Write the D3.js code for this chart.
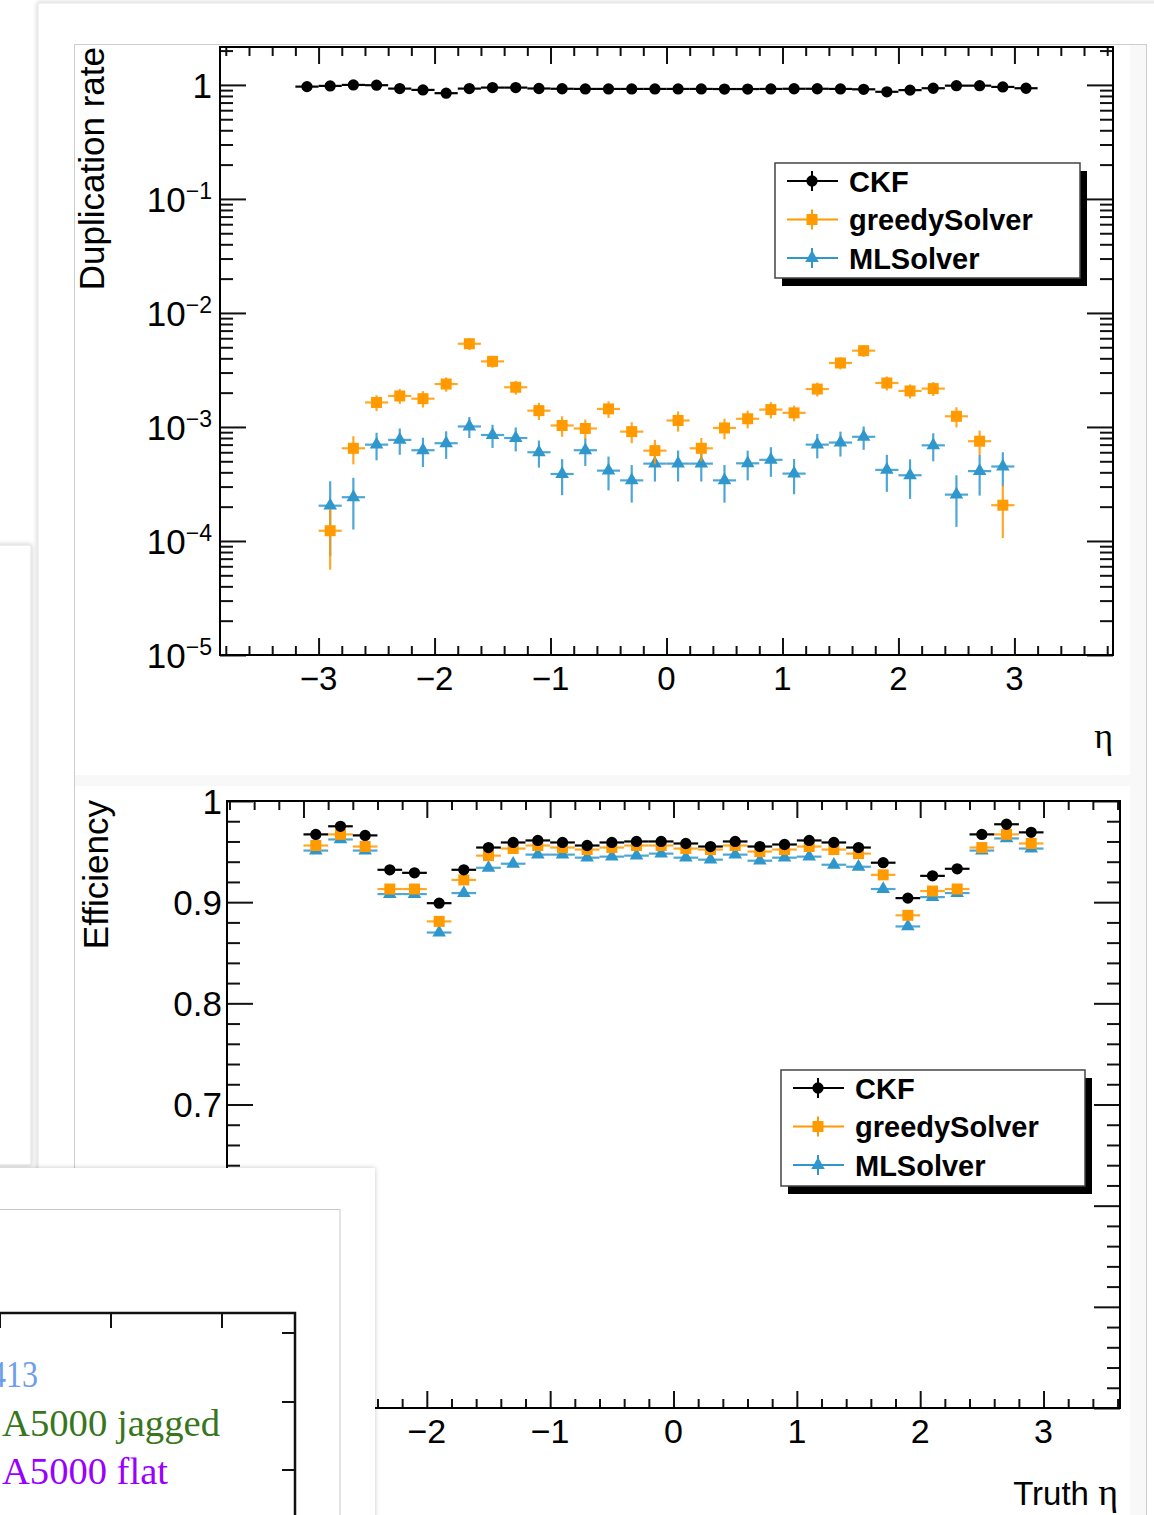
<!DOCTYPE html>
<html>
<head>
<meta charset="utf-8">
<script src="https://cdn.jsdelivr.net/npm/d3@7"></script>
<style>
  body { margin: 0; background: #fff; }
  text { font-family: "Liberation Sans", Arial, sans-serif; }
</style>
</head>
<body>
<div id="wrapper"></div>
<script>
// ---- data ----
// duplication rate vs eta
const etaCKF = [-3.1, -2.9, -2.7, -2.5, -2.3, -2.1, -1.9, -1.7, -1.5, -1.3, -1.1, -0.9, -0.7, -0.5, -0.3, -0.1,
                0.1, 0.3, 0.5, 0.7, 0.9, 1.1, 1.3, 1.5, 1.7, 1.9, 2.1, 2.3, 2.5, 2.7, 2.9, 3.1];
const etaBins = [-2.9, -2.7, -2.5, -2.3, -2.1, -1.9, -1.7, -1.5, -1.3, -1.1, -0.9, -0.7, -0.5, -0.3, -0.1,
                 0.1, 0.3, 0.5, 0.7, 0.9, 1.1, 1.3, 1.5, 1.7, 1.9, 2.1, 2.3, 2.5, 2.7, 2.9];

const dupCKF = [0.966, 0.98, 1.0, 0.994, 0.928, 0.904, 0.846, 0.928, 0.947, 0.947, 0.93, 0.925, 0.922, 0.922, 0.922, 0.922,
                0.922, 0.922, 0.92, 0.92, 0.922, 0.925, 0.925, 0.922, 0.915, 0.87, 0.9, 0.935, 0.985, 0.985, 0.96, 0.935];
const dupGreedy = [1.23e-4, 6.5e-4, 1.64e-3, 1.87e-3, 1.77e-3, 2.38e-3, 5.37e-3, 3.76e-3, 2.23e-3, 1.39e-3,
                   1.03e-3, 9.7e-4, 1.44e-3, 9.1e-4, 6.2e-4, 1.14e-3, 6.5e-4, 9.8e-4, 1.18e-3, 1.42e-3,
                   1.33e-3, 2.15e-3, 3.64e-3, 4.67e-3, 2.43e-3, 2.07e-3, 2.17e-3, 1.24e-3, 7.5e-4, 2.06e-4];
const dupGreedyErr = [6.7e-5, 1.8e-4, 2.6e-4, 2.8e-4, 2.9e-4, 3.4e-4, 6.5e-4, 4.5e-4, 3.1e-4, 2.4e-4,
                      2.1e-4, 1.9e-4, 2.4e-4, 1.9e-4, 1.5e-4, 2.3e-4, 1.5e-4, 2.0e-4, 2.1e-4, 2.3e-4,
                      2.1e-4, 3.0e-4, 4.4e-4, 5.6e-4, 3.4e-4, 2.9e-4, 3.0e-4, 2.5e-4, 1.8e-4, 1.0e-4];
const dupML = [2.04e-4, 2.42e-4, 7.0e-4, 7.7e-4, 6.25e-4, 7.2e-4, 1.01e-3, 8.5e-4, 8.0e-4, 6.0e-4,
               3.87e-4, 6.25e-4, 4.14e-4, 3.4e-4, 4.77e-4, 4.77e-4, 4.77e-4, 3.4e-4, 4.8e-4, 5.15e-4,
               3.9e-4, 7.0e-4, 7.3e-4, 8.2e-4, 4.2e-4, 3.77e-4, 6.9e-4, 2.55e-4, 4.1e-4, 4.5e-4];
const dupMLErr = [1.3e-4, 1.16e-4, 1.9e-4, 2.0e-4, 1.8e-4, 1.95e-4, 2.1e-4, 1.95e-4, 1.9e-4, 1.6e-4,
                  1.35e-4, 1.7e-4, 1.36e-4, 1.23e-4, 1.45e-4, 1.45e-4, 1.45e-4, 1.23e-4, 1.4e-4, 1.5e-4,
                  1.33e-4, 1.7e-4, 1.8e-4, 1.9e-4, 1.5e-4, 1.43e-4, 1.9e-4, 1.22e-4, 1.6e-4, 1.5e-4];

// efficiency vs truth eta
const effCKF = [0.967, 0.975, 0.966, 0.932, 0.929, 0.899, 0.932, 0.954, 0.959, 0.961, 0.959, 0.956, 0.959, 0.960, 0.960,
                0.958, 0.955, 0.960, 0.955, 0.957, 0.961, 0.959, 0.954, 0.939, 0.904, 0.926, 0.933, 0.967, 0.977, 0.969];
const effGreedy = [0.956, 0.967, 0.955, 0.913, 0.913, 0.881, 0.922, 0.946, 0.953, 0.956, 0.954, 0.952, 0.954, 0.956, 0.956,
                   0.953, 0.952, 0.956, 0.950, 0.952, 0.955, 0.952, 0.948, 0.927, 0.887, 0.911, 0.913, 0.954, 0.967, 0.958];
const effML = [0.951, 0.962, 0.951, 0.908, 0.908, 0.870, 0.909, 0.934, 0.938, 0.947, 0.947, 0.944, 0.945, 0.946, 0.948,
               0.944, 0.942, 0.947, 0.941, 0.944, 0.945, 0.937, 0.935, 0.913, 0.876, 0.905, 0.909, 0.951, 0.963, 0.953];

const seriesNames = ['CKF', 'greedySolver', 'MLSolver'];
const seriesColors = ['#000000', '#ff9a00', '#2f97cc'];
const seriesMarkers = [d3.symbolCircle, d3.symbolSquare, d3.symbolTriangle];
const markerSizes = [100, 121, 80];

const etaMajors = [-3, -2, -1, 0, 1, 2, 3];
const logMajors = [1e-5, 1e-4, 1e-3, 1e-2, 1e-1, 1];
const logLabels = [['10', '\u22125'], ['10', '\u22124'], ['10', '\u22123'], ['10', '\u22122'], ['10', '\u22121'], ['1', '']];
const effMajors = [0.4, 0.5, 0.6, 0.7, 0.8, 0.9, 1.0];
const effLabels = ['0.4', '0.5', '0.6', '0.7', '0.8', '0.9', '1'];

const sideNotes = ['413', 'A5000 jagged', 'A5000 flat'];
const sideColors = ['#6d9eeb', '#38761d', '#9900ff'];

// the lower-left card covers this part of the canvas
const cover = { x: 375, y: 1168 };
function hidden(px, py) { return px < cover.x && py > cover.y; }

// ---- page ----
const svg = d3.select('#wrapper').append('svg')
    .attr('width', 1154).attr('height', 1515)
    .style('display', 'block');

const defs = svg.append('defs');
const flt = defs.append('filter').attr('id', 'shadow')
    .attr('x', '-10%').attr('y', '-10%').attr('width', '120%').attr('height', '120%');
flt.append('feDropShadow').attr('dx', 0).attr('dy', 0).attr('stdDeviation', 2.5)
    .attr('flood-color', '#000').attr('flood-opacity', 0.22);

// main card with the ROOT canvases
svg.append('rect').attr('x', 38).attr('y', 3).attr('width', 1200).attr('height', 1600)
    .attr('fill', '#fff').attr('stroke', '#e4e4e4').attr('filter', 'url(#shadow)');
svg.append('rect').attr('x', 74.5).attr('y', 44.5).attr('width', 1072).attr('height', 1500)
    .attr('fill', '#f8f8f8').attr('stroke', '#cdcdcd');
svg.append('rect').attr('x', 75).attr('y', 45).attr('width', 1055).attr('height', 730).attr('fill', '#fff');
svg.append('rect').attr('x', 75).attr('y', 786).attr('width', 1055).attr('height', 760).attr('fill', '#fff');

function minusFmt(d) { return d < 0 ? '\u2212' + (-d) : String(d); }

function styleAxis(g) {
    g.select('.domain').remove();
    g.selectAll('line').attr('stroke', '#111').attr('stroke-width', 2);
}

// ticks on all four sides, ROOT style (inside the frame)
function frameTicks(g, x, y, yMajors, yMinors, xMinors, majLenY, minLenY) {
    const [x0, x1] = x.range();
    const [y0, y1] = y.range();
    g.append('g').attr('transform', `translate(0,${y0})`)
        .call(d3.axisBottom(x).tickValues(etaMajors).tickSize(-17).tickFormat('')).call(styleAxis);
    g.append('g').attr('transform', `translate(0,${y0})`)
        .call(d3.axisBottom(x).tickValues(xMinors).tickSize(-9).tickFormat('')).call(styleAxis);
    g.append('g').attr('transform', `translate(0,${y1})`)
        .call(d3.axisTop(x).tickValues(etaMajors).tickSize(-17).tickFormat('')).call(styleAxis);
    g.append('g').attr('transform', `translate(0,${y1})`)
        .call(d3.axisTop(x).tickValues(xMinors).tickSize(-9).tickFormat('')).call(styleAxis);
    g.append('g').attr('transform', `translate(${x0},0)`)
        .call(d3.axisLeft(y).tickValues(yMajors).tickSize(-majLenY).tickFormat('')).call(styleAxis);
    g.append('g').attr('transform', `translate(${x0},0)`)
        .call(d3.axisLeft(y).tickValues(yMinors).tickSize(-minLenY).tickFormat('')).call(styleAxis);
    g.append('g').attr('transform', `translate(${x1},0)`)
        .call(d3.axisRight(y).tickValues(yMajors).tickSize(-majLenY).tickFormat('')).call(styleAxis);
    g.append('g').attr('transform', `translate(${x1},0)`)
        .call(d3.axisRight(y).tickValues(yMinors).tickSize(-minLenY).tickFormat('')).call(styleAxis);
    g.append('rect').attr('x', x0).attr('y', y1).attr('width', x1 - x0).attr('height', y0 - y1)
        .attr('fill', 'none').attr('stroke', '#000').attr('stroke-width', 2);
}

function drawSeries(g, x, y, etas, vals, errs, idx) {
    const col = seriesColors[idx];
    const pts = etas.map((e, i) => ({ e: e, v: vals[i], err: errs ? errs[i] : 0 }));
    const s = g.append('g');
    s.selectAll('line.h').data(pts).enter().append('line')
        .attr('x1', d => x(d.e - 0.1)).attr('x2', d => x(d.e + 0.1))
        .attr('y1', d => y(d.v)).attr('y2', d => y(d.v))
        .attr('stroke', col).attr('stroke-width', 2.2).attr('opacity', idx ? 0.85 : 1);
    if (errs) {
        s.selectAll('line.v').data(pts).enter().append('line')
            .attr('x1', d => x(d.e)).attr('x2', d => x(d.e))
            .attr('y1', d => y(Math.max(d.v - d.err, 1e-6))).attr('y2', d => y(d.v + d.err))
            .attr('stroke', col).attr('stroke-width', 2.2).attr('opacity', 0.85);
    }
    s.selectAll('path').data(pts).enter().append('path')
        .attr('transform', d => `translate(${x(d.e)},${y(d.v)})`)
        .attr('d', d3.symbol(seriesMarkers[idx]).size(markerSizes[idx]))
        .attr('fill', col);
}

function drawLegend(g, x0, y0, w, h) {
    g.append('rect').attr('x', x0 + 7).attr('y', y0 + 8).attr('width', w).attr('height', h).attr('fill', '#000');
    g.append('rect').attr('x', x0).attr('y', y0).attr('width', w).attr('height', h)
        .attr('fill', '#fff').attr('stroke', '#444').attr('stroke-width', 1.5);
    seriesNames.forEach((name, i) => {
        const cy = y0 + 18 + i * 38.5;
        const mx = x0 + 37;
        g.append('line').attr('x1', x0 + 12).attr('x2', x0 + 63).attr('y1', cy).attr('y2', cy)
            .attr('stroke', seriesColors[i]).attr('stroke-width', 2);
        g.append('line').attr('x1', mx).attr('x2', mx).attr('y1', cy - 10).attr('y2', cy + 10)
            .attr('stroke', seriesColors[i]).attr('stroke-width', 2);
        g.append('path').attr('transform', `translate(${mx},${cy})`)
            .attr('d', d3.symbol(seriesMarkers[i]).size(markerSizes[i])).attr('fill', seriesColors[i]);
        g.append('text').attr('x', x0 + 74).attr('y', cy + 10.5)
            .style('font-size', '29px').style('font-weight', 'bold').text(name);
    });
}

// ---- top: duplication rate ----
const xDup = d3.scaleLinear().domain([-3.85, 3.85]).range([220, 1113]);
const yDup = d3.scaleLog().domain([1e-5, 2.15]).range([655, 47]).clamp(true);
const dupG = svg.append('g');

const etaMinorsTop = d3.range(-38, 39, 2).map(d => d / 10).filter(d => !etaMajors.includes(d));
const logMinors = [];
logMajors.forEach(m => { for (let k = 2; k <= 9; k++) if (m * k < 2.15) logMinors.push(m * k); });
frameTicks(dupG, xDup, yDup, logMajors, logMinors, etaMinorsTop, 26, 13);

dupG.selectAll('text.xl').data(etaMajors).enter().append('text')
    .attr('x', d => xDup(d)).attr('y', 690).attr('text-anchor', 'middle')
    .style('font-size', '33px').text(minusFmt);
logMajors.forEach((m, i) => {
    const t = dupG.append('text').attr('x', 212).attr('y', yDup(m) + 13).attr('text-anchor', 'end')
        .style('font-size', '35px');
    t.append('tspan').text(logLabels[i][0]);
    if (logLabels[i][1]) t.append('tspan').attr('dy', -13).style('font-size', '23px').text(logLabels[i][1]);
});
dupG.append('text').attr('transform', 'translate(104,47) rotate(-90)').attr('text-anchor', 'end')
    .style('font-size', '35px').text('Duplication rate');
dupG.append('text').attr('x', 1113).attr('y', 748).attr('text-anchor', 'end')
    .style('font-family', '"Liberation Serif", serif').style('font-size', '36px').text('\u03b7');

drawSeries(dupG, xDup, yDup, etaCKF, dupCKF, null, 0);
drawSeries(dupG, xDup, yDup, etaBins, dupML, dupMLErr, 2);
drawSeries(dupG, xDup, yDup, etaBins, dupGreedy, dupGreedyErr, 1);
drawLegend(dupG, 775, 163, 305, 115);

// ---- bottom: efficiency ----
const xEff = d3.scaleLinear().domain([-3.62, 3.62]).range([227, 1120]);
const yEff = d3.scaleLinear().domain([0.4, 1.0]).range([1408, 801]);
const effG = svg.append('g');
const etaMinorsBot = d3.range(-36, 37, 2).map(d => d / 10).filter(d => !etaMajors.includes(d));
const effMinors = d3.range(40, 101, 2).map(d => d / 100).filter(d => Math.round(d * 100) % 10 !== 0);
frameTicks(effG, xEff, yEff, effMajors, effMinors, etaMinorsBot, 26, 13);

effG.selectAll('text.xl').data(etaMajors.filter(d => !hidden(xEff(d), 1430))).enter().append('text')
    .attr('x', d => xEff(d)).attr('y', 1443).attr('text-anchor', 'middle')
    .style('font-size', '34px').text(minusFmt);
effG.selectAll('text.yl').data(effMajors.filter(d => !hidden(200, yEff(d)))).enter().append('text')
    .attr('x', 222).attr('y', d => yEff(d) + 12.5).attr('text-anchor', 'end')
    .style('font-size', '35px').text(d => effLabels[effMajors.indexOf(d)]);
effG.append('text').attr('transform', 'translate(108,800) rotate(-90)').attr('text-anchor', 'end')
    .style('font-size', '35px').text('Efficiency');
const tt = effG.append('text').attr('x', 1118).attr('y', 1505).attr('text-anchor', 'end').style('font-size', '33px');
tt.append('tspan').text('Truth ');
tt.append('tspan').style('font-family', '"Liberation Serif", serif').style('font-size', '38px').text('\u03b7');

drawSeries(effG, xEff, yEff, etaBins, effML, null, 2);
drawSeries(effG, xEff, yEff, etaBins, effGreedy, null, 1);
drawSeries(effG, xEff, yEff, etaBins, effCKF, null, 0);
drawLegend(effG, 781, 1070, 304, 116);

// ---- overlapping cards on the left ----
svg.append('rect').attr('x', -10).attr('y', 545).attr('width', 41).attr('height', 620)
    .attr('fill', '#fff').attr('stroke', '#e0e0e0').attr('filter', 'url(#shadow)');

svg.append('rect').attr('x', -10).attr('y', cover.y).attr('width', cover.x + 10).attr('height', 400)
    .attr('fill', '#fff').attr('filter', 'url(#shadow)');
svg.append('rect').attr('x', -10).attr('y', 1209.5).attr('width', 350).attr('height', 400)
    .attr('fill', '#fff').attr('stroke', '#c9c9c9');
const side = svg.append('g');
side.append('path').attr('d', 'M0,1313 H295 V1530').attr('fill', 'none')
    .attr('stroke', '#111').attr('stroke-width', 2.5);
[0, 111, 222].forEach(x => side.append('line').attr('x1', x).attr('x2', x).attr('y1', 1313).attr('y2', 1328)
    .attr('stroke', '#111').attr('stroke-width', 2));
[1333, 1402, 1470].forEach(y => side.append('line').attr('x1', 282).attr('x2', 295).attr('y1', y).attr('y2', y)
    .attr('stroke', '#111').attr('stroke-width', 2));
side.selectAll('text').data(sideNotes).enter().append('text')
    .attr('x', (d, i) => i ? 2 : -10).attr('y', (d, i) => 1387 + i * 48.5)
    .attr('textLength', (d, i) => [48, 218, 166][i]).attr('lengthAdjust', 'spacingAndGlyphs')
    .style('font-family', '"Liberation Serif", serif').style('font-size', '37px')
    .attr('fill', (d, i) => sideColors[i]).text(d => d);
</script>
</body>
</html>
